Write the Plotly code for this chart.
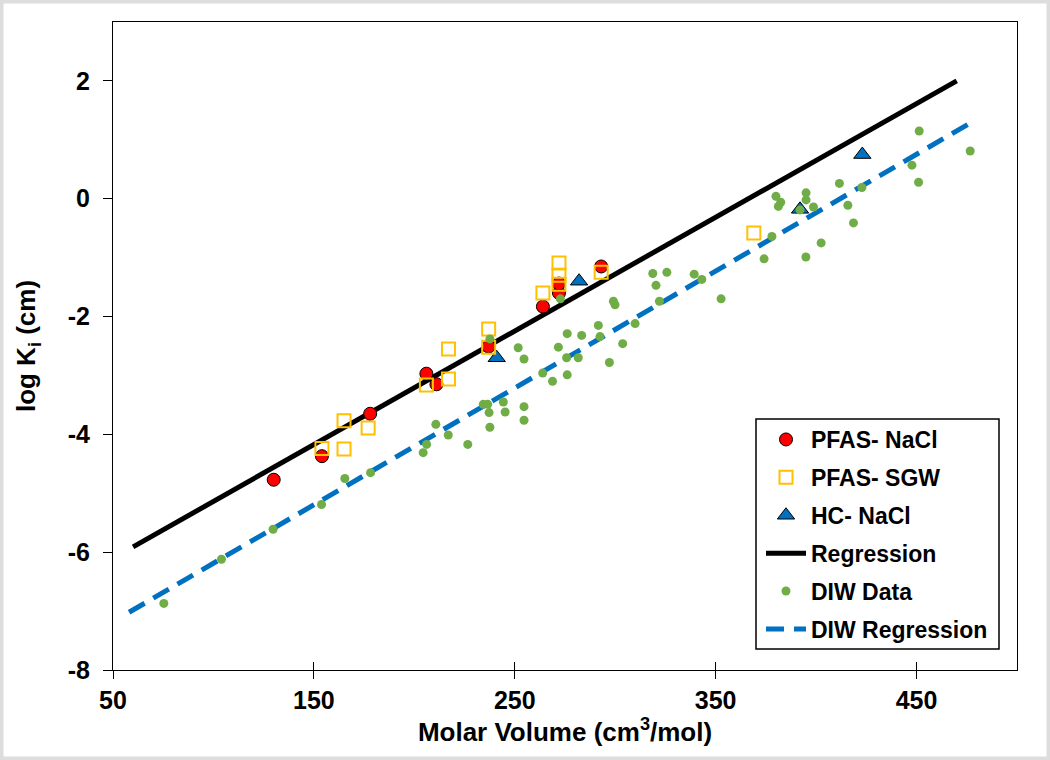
import plotly.graph_objects as go

# ---------------- data ----------------
pfas_nacl_x = [130, 154, 178, 206, 211, 237, 264, 272, 272, 293]
pfas_nacl_y = [-4.77, -4.37, -3.65, -2.97, -3.15, -2.51, -1.83, -1.60, -1.44, -1.15]

pfas_sgw_x = [154, 165, 165, 177, 206, 217, 217, 237, 237, 264, 272, 272, 272, 293, 369]
pfas_sgw_y = [-4.24, -3.77, -4.25, -3.89, -3.16, -3.06, -2.55, -2.21, -2.52, -1.60,
              -1.09, -1.30, -1.45, -1.25, -0.58]

hc_nacl_x = [241, 282, 392, 423]
hc_nacl_y = [-2.70, -1.40, -0.18, 0.75]

diw_x = [75.3, 104.0, 129.7, 153.8, 165.4, 178.2, 204.4, 206.1, 210.7, 216.9,
         226.6, 234.3, 236.5, 237.2, 237.6, 237.6, 244.3, 245.2, 251.7, 254.6,
         254.6, 254.6, 263.9, 268.8, 272.7, 271.7, 275.8, 276.1, 276.1, 281.6,
         283.3, 291.6, 292.4, 297.1, 299.1, 299.9, 303.7, 309.9, 318.7, 325.7,
         320.3, 322.0, 339.3, 343.1, 352.7, 374.1, 378.0, 380.0, 382.4, 381.2,
         395.0, 395.0, 392.0, 398.7, 394.9, 402.5, 411.6, 415.8, 418.6, 422.8,
         447.7, 451.0, 451.3, 476.7]
diw_y = [-6.87, -6.12, -5.61, -5.19, -4.75, -4.65, -4.31, -4.17, -3.83, -4.01,
         -4.17, -3.49, -3.49, -3.63, -3.88, -2.38, -3.45, -3.62, -2.53, -2.72,
         -3.53, -3.76, -2.96, -3.10, -1.70, -2.52, -2.70, -2.29, -2.99, -2.70,
         -2.32, -2.15, -2.34, -2.78, -1.74, -1.80, -2.46, -2.12, -1.27, -1.25,
         -1.47, -1.74, -1.28, -1.37, -1.70, -1.02, -0.64, 0.04, -0.06, -0.13,
         0.10, -0.02, -0.19, -0.14, -0.99, -0.75, 0.26, -0.11, -0.41, 0.19,
         0.57, 0.28, 1.15, 0.81]

reg_x = [60, 470]
reg_y = [-5.91, 2.00]

diw_reg_x = [58, 478]
diw_reg_y = [-7.02, 1.31]

x_ticks = [50, 150, 250, 350, 450]
y_ticks = [-8, -6, -4, -2, 0, 2]

# ---------------- figure ----------------
FONT = "Liberation Sans, Arial, sans-serif"
fig = go.Figure()

fig.add_trace(go.Scatter(
    x=diw_reg_x, y=diw_reg_y, mode="lines", name="DIW Regression",
    line=dict(color="#0070C0", width=5, dash="18px,10px"),
    legendrank=6, legendgroup="g6"))
fig.add_trace(go.Scatter(
    x=reg_x, y=reg_y, mode="lines", name="Regression",
    line=dict(color="#000000", width=5),
    legendrank=4, legendgroup="g4"))
fig.add_trace(go.Scatter(
    x=hc_nacl_x, y=hc_nacl_y, mode="markers", name="HC- NaCl",
    marker=dict(symbol="triangle-up", size=15, color="#0070C0",
                line=dict(color="#000000", width=1)),
    legendrank=3, legendgroup="g3"))
fig.add_trace(go.Scatter(
    x=pfas_nacl_x, y=pfas_nacl_y, mode="markers", name="PFAS- NaCl",
    marker=dict(symbol="circle", size=13, color="#FF0000",
                line=dict(color="#000000", width=1)),
    legendrank=1, legendgroup="g1"))
fig.add_trace(go.Scatter(
    x=pfas_sgw_x, y=pfas_sgw_y, mode="markers", name="PFAS- SGW",
    marker=dict(symbol="square-open", size=13, color="#FFC000",
                line=dict(color="#FFC000", width=2)),
    legendrank=2, legendgroup="g2"))
fig.add_trace(go.Scatter(
    x=diw_x, y=diw_y, mode="markers", name="DIW Data",
    marker=dict(symbol="circle", size=9, color="#70AD47"),
    legendrank=5, legendgroup="g5"))

W, H = 1050, 760
ML, MR, MT, MB = 113, 33, 22, 90
pw, ph = W - ML - MR, H - MT - MB

def px_x(p):
    return (p - ML) / pw

def px_y(p):
    return (H - MB - p) / ph

fig.update_layout(
    width=W, height=H,
    margin=dict(l=ML, r=MR, t=MT, b=MB),
    paper_bgcolor="white", plot_bgcolor="white",
    font=dict(family=FONT, color="#000000", size=23, weight="bold"),
    showlegend=True,
    legend=dict(
        x=px_x(761), y=px_y(418), xanchor="left", yanchor="top",
        bgcolor="rgba(0,0,0,0)", borderwidth=0,
        font=dict(family=FONT, size=23, color="#000000", weight="bold"),
        tracegroupgap=5, itemwidth=40,
    ),
    xaxis=dict(
        range=[50, 500], tickvals=x_ticks, ticktext=[str(v) for v in x_ticks],
        showgrid=False, zeroline=False, showline=True, linecolor="#000000",
        linewidth=1, mirror=True, ticks="outside", ticklen=8, tickcolor="#000000",
        ticklabelstandoff=0,
        tickfont=dict(family=FONT, size=25, weight="bold"),
        title=dict(text="Molar Volume (cm<sup>3</sup>/mol)", standoff=6,
                   font=dict(family=FONT, size=26, weight="bold")),
    ),
    xaxis2=dict(
        range=[50, 500], tickvals=x_ticks, overlaying="x", side="bottom",
        showticklabels=False, showgrid=False, zeroline=False, showline=False,
        ticks="inside", ticklen=8, tickcolor="#000000",
    ),
    yaxis=dict(
        range=[-8, 3], tickvals=y_ticks, ticktext=[str(v) for v in y_ticks],
        showgrid=False, zeroline=False, showline=True, linecolor="#000000",
        linewidth=1, mirror=True, ticks="outside", ticklen=9, tickcolor="#000000",
        ticklabelstandoff=8,
        tickfont=dict(family=FONT, size=25, weight="bold"),
        title=dict(text="log K<sub>i</sub> (cm)", standoff=24,
                   font=dict(family=FONT, size=26, weight="bold")),
    ),
)

# dummy trace to activate xaxis2 tick marks (crossing ticks)
fig.add_trace(go.Scatter(x=[None], y=[None], xaxis="x2", showlegend=False,
                         hoverinfo="skip"))

# legend frame
fig.add_shape(type="rect", xref="paper", yref="paper",
              x0=px_x(756), x1=px_x(999), y0=px_y(649), y1=px_y(419),
              line=dict(color="#000000", width=1.5), fillcolor="white",
              layer="above")

# light grey frame around the whole image
fig.add_shape(type="rect", xref="paper", yref="paper",
              x0=px_x(0), x1=px_x(W), y0=px_y(H), y1=px_y(0),
              line=dict(color="#DDDDDD", width=7), fillcolor="rgba(0,0,0,0)",
              layer="below")

fig.write_html(
    "out.html",
    config={"displayModeBar": False},
    post_script="document.body.style.margin='0';document.body.style.padding='0';"
                "document.body.style.overflow='hidden';",
)
